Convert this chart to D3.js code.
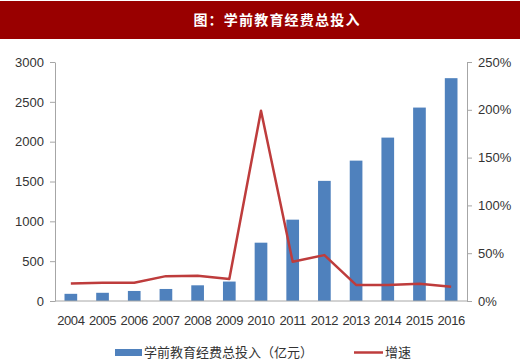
<!DOCTYPE html>
<html><head><meta charset="utf-8">
<script src="https://cdn.jsdelivr.net/npm/d3@7"></script>
<style>body{margin:0;background:#fff}svg{display:block}</style>
</head><body><div id="c"></div>
<script>
const years = ["2004","2005","2006","2007","2008","2009","2010","2011","2012","2013","2014","2015","2016"];
const investment = [90, 103, 126, 151, 197, 244, 732, 1021, 1508, 1762, 2051, 2428, 2797];
const growth = [18.2, 19, 19, 26, 26.3, 23, 199, 41, 48, 16.8, 16.8, 18, 15];
const leftTicks = [0, 500, 1000, 1500, 2000, 2500, 3000];
const rightTicks = [0, 50, 100, 150, 200, 250];
const title = "图：学前教育经费总投入";
const legendBar = "学前教育经费总投入（亿元）";
const legendLine = "增速";

const W = 520, H = 364;
const m = {l: 55, r: 467, t: 62, b: 301};
const svg = d3.select("#c").append("svg").attr("width", W).attr("height", H);
const font = "'Liberation Sans', 'Noto Sans CJK SC', sans-serif";

svg.append("rect").attr("x", 0).attr("y", 1).attr("width", W).attr("height", 38).attr("fill", "#990000");
svg.append("text").attr("x", 277).attr("y", 25).attr("text-anchor", "middle")
  .attr("fill", "#fff").attr("font-size", 14).attr("font-weight", "bold")
  .attr("letter-spacing", 1.2)
  .attr("font-family", "'Noto Sans CJK SC', sans-serif").text(title);

const x = d3.scaleBand().domain(years).range([m.l, m.r]).paddingInner(0.6).paddingOuter(0.3);
const y = d3.scaleLinear().domain([0, 3000]).range([m.b, m.t]);
const y2 = d3.scaleLinear().domain([0, 250]).range([m.b, m.t]);

svg.selectAll("rect.bar").data(investment).join("rect").attr("class", "bar")
  .attr("x", (d, i) => x(years[i])).attr("width", x.bandwidth())
  .attr("y", d => y(d)).attr("height", d => y(0) - y(d)).attr("fill", "#4f81bd");

const axisColor = "#a6a6a6";
const la = svg.append("g").attr("transform", `translate(${m.l},0)`)
  .call(d3.axisLeft(y).tickValues(leftTicks).tickSize(5).tickPadding(6).tickSizeOuter(0).tickFormat(d3.format("d")));
const ra = svg.append("g").attr("transform", `translate(${m.r},0)`)
  .call(d3.axisRight(y2).tickValues(rightTicks).tickSize(5).tickPadding(6).tickSizeOuter(0).tickFormat(d => d + "%"));
const xa = svg.append("g").attr("transform", `translate(0,${m.b})`)
  .call(d3.axisBottom(x).tickSize(0).tickPadding(15).tickSizeOuter(0));
[la, ra, xa].forEach(g => {
  g.selectAll("path,line").attr("stroke", axisColor);
  g.selectAll("text").attr("fill", "#333").attr("font-size", 13).attr("font-family", font);
});
xa.selectAll("text").attr("letter-spacing", -0.4);
xa.select("path").attr("d", `M${m.l},0H${m.r}`);

const line = d3.line().x((d, i) => x(years[i]) + x.bandwidth() / 2).y(d => y2(d));
svg.append("path").datum(growth).attr("d", line).attr("fill", "none")
  .attr("stroke", "#be3c3c").attr("stroke-width", 2.5).attr("stroke-linejoin", "round");

const lg = svg.append("g");
lg.append("rect").attr("x", 115).attr("y", 349).attr("width", 27).attr("height", 7).attr("fill", "#4f81bd");
lg.append("text").attr("x", 144).attr("y", 357).attr("font-size", 13).attr("fill", "#333")
  .attr("font-family", "'Noto Sans CJK SC', sans-serif").text(legendBar);
lg.append("line").attr("x1", 354).attr("x2", 383).attr("y1", 352.5).attr("y2", 352.5)
  .attr("stroke", "#be3c3c").attr("stroke-width", 2.5);
lg.append("text").attr("x", 385).attr("y", 357).attr("font-size", 13).attr("fill", "#333")
  .attr("font-family", "'Noto Sans CJK SC', sans-serif").text(legendLine);
</script></body></html>
